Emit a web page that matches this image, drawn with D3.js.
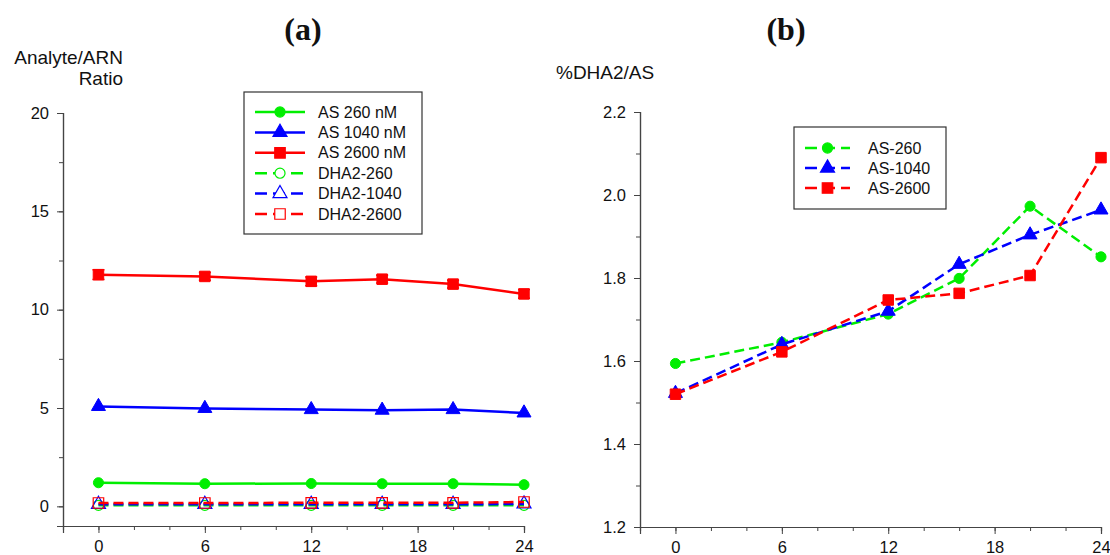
<!doctype html>
<html>
<head>
	<script src="https://d3js.org/d3.v7.min.js"></script>
	<style>
		body { margin: 0; background: #fff; }
		svg text { font-family: Arial, "Liberation Sans", sans-serif; fill: #111; }
	</style>
</head>
<body>
	<svg id="chart" width="1110" height="555"></svg>
	<script>

		// time points (h)
		var hours = [0, 6, 12, 16, 20, 24];

		// panel (a): analyte / ARN ratio
		var as260 = [1.2, 1.15, 1.16, 1.15, 1.15, 1.1];
		var as1040 = [5.08, 4.98, 4.92, 4.89, 4.92, 4.75];
		var as2600 = [11.78, 11.69, 11.44, 11.55, 11.3, 10.8];
		var as2600Err = [0.25, 0.2, 0.22, 0.2, 0.2, 0.22];
		var dha260 = [0.05, 0.05, 0.05, 0.05, 0.05, 0.05];
		var dha1040 = [0.1, 0.1, 0.1, 0.1, 0.1, 0.12];
		var dha2600 = [0.17, 0.17, 0.18, 0.18, 0.18, 0.22];

		// panel (b): %DHA2/AS
		var pct260 = [1.594, 1.645, 1.713, 1.799, 1.973, 1.851];
		var pct1040 = [1.522, 1.64, 1.72, 1.833, 1.904, 1.964];
		var pct2600 = [1.52, 1.622, 1.747, 1.763, 1.806, 2.09];

		var xTicks = [0, 6, 12, 18, 24];
		var leftYTicks = [0, 5, 10, 15, 20];
		var rightYTicks = [1.2, 1.4, 1.6, 1.8, 2.0, 2.2];

		var seriesA = [
			{name: "AS 260 nM", values: as260, color: "#00ee00", shape: "circle", open: false, dash: null},
			{name: "AS 1040 nM", values: as1040, color: "#0000ff", shape: "triangle", open: false, dash: null},
			{name: "AS 2600 nM", values: as2600, color: "#ff0000", shape: "square", open: false, dash: null, err: as2600Err},
			{name: "DHA2-260", values: dha260, color: "#00ee00", shape: "circle", open: true, dash: "10,5"},
			{name: "DHA2-1040", values: dha1040, color: "#0000ff", shape: "triangle", open: true, dash: "10,5"},
			{name: "DHA2-2600", values: dha2600, color: "#ff0000", shape: "square", open: true, dash: "10,5"}
		];

		var seriesB = [
			{name: "AS-260", values: pct260, color: "#00ee00", shape: "circle", open: false, dash: "10,5"},
			{name: "AS-1040", values: pct1040, color: "#0000ff", shape: "triangle", open: false, dash: "10,5"},
			{name: "AS-2600", values: pct2600, color: "#ff0000", shape: "square", open: false, dash: "10,5"}
		];

		var svg = d3.select("#chart");

		var symbolTypes = {circle: d3.symbolCircle, triangle: d3.symbolTriangle, square: d3.symbolSquare};
		var symbolSizes = {circle: 80, triangle: 85, square: 110};

		function drawPanel(opt) {
			var g = svg.append("g");

			var x = d3.scaleLinear().domain([-2, 24]).range(opt.xRange);
			var y = d3.scaleLinear().domain(opt.yDomain).range(opt.yRange);

			// minor ticks
			var xAxisMinor = d3.axisBottom(x).tickValues(d3.range(-2, 25, 2)).tickSize(4).tickFormat("");
			var xAxis = d3.axisBottom(x).tickValues(xTicks).tickSize(7).tickPadding(7).tickFormat(d3.format("d"));
			var yAxisMinor = d3.axisLeft(y).tickValues(opt.yMinor).tickSize(4).tickFormat("");
			var yAxis = d3.axisLeft(y).tickValues(opt.yTicks).tickSize(6).tickPadding(8).tickFormat(opt.yFormat);

			var xg = g.append("g").attr("transform", "translate(0," + opt.yRange[0] + ")");
			xg.call(xAxisMinor);
			xg.append("g").call(xAxis);
			var yg = g.append("g").attr("transform", "translate(" + opt.xRange[0] + ",0)");
			yg.call(yAxisMinor);
			yg.append("g").call(yAxis);

			g.selectAll(".domain").attr("stroke", "#444").attr("stroke-width", 1.2);
			g.selectAll(".tick line").attr("stroke", "#444");
			g.selectAll(".tick text").style("font-size", "16.5px").attr("fill", "#111");

			var line = d3.line()
				.x(function(d, i) { return x(hours[i]); })
				.y(function(d) { return y(d); });

			opt.series.forEach(function(s) {
				var sg = g.append("g");
				sg.append("path")
					.datum(s.values)
					.attr("d", line)
					.attr("fill", "none")
					.attr("stroke", s.color)
					.attr("stroke-width", 2.5)
					.attr("stroke-dasharray", s.dash);

				if (s.err) {
					sg.selectAll(".err")
						.data(s.values)
						.enter()
						.append("path")
						.attr("d", function(d, i) {
							var cx = x(hours[i]), y0 = y(d - s.err[i]), y1 = y(d + s.err[i]);
							return "M" + (cx - 6) + "," + y0 + "H" + (cx + 6) + "M" + cx + "," + y0 + "V" + y1 + "M" + (cx - 6) + "," + y1 + "H" + (cx + 6);
						})
						.attr("stroke", s.color)
						.attr("stroke-width", 1.5);
				}

				sg.selectAll(".pt")
					.data(s.values)
					.enter()
					.append("path")
					.attr("transform", function(d, i) { return "translate(" + x(hours[i]) + "," + y(d) + ")"; })
					.attr("d", d3.symbol().type(symbolTypes[s.shape]).size(symbolSizes[s.shape]))
					.attr("fill", s.open ? "none" : s.color)
					.attr("stroke", s.color)
					.attr("stroke-width", s.open ? 1.2 : 1);
			});

			// legend
			var lg = g.append("g").attr("transform", "translate(" + opt.legend.x + "," + opt.legend.y + ")");
			lg.append("rect")
				.attr("width", opt.legend.w)
				.attr("height", opt.legend.h)
				.attr("fill", "#fff")
				.attr("stroke", "#333")
				.attr("stroke-width", 1.2);

			var items = lg.selectAll(".item")
				.data(opt.series)
				.enter()
				.append("g")
				.attr("transform", function(d, i) { return "translate(0," + (opt.legend.top + i * opt.legend.step) + ")"; });

			items.append("line")
				.attr("x1", opt.legend.lx1)
				.attr("x2", opt.legend.lx2)
				.attr("stroke", function(d) { return d.color; })
				.attr("stroke-width", 2.5)
				.attr("stroke-dasharray", function(d) { return d.dash ? "12,6" : null; });

			items.append("path")
				.attr("transform", "translate(" + ((opt.legend.lx1 + opt.legend.lx2) / 2) + ",0)")
				.attr("d", function(d) { return d3.symbol().type(symbolTypes[d.shape]).size(symbolSizes[d.shape])(); })
				.attr("fill", function(d) { return d.open ? "#fff" : d.color; })
				.attr("stroke", function(d) { return d.color; })
				.attr("stroke-width", 1.2);

			items.append("text")
				.attr("x", opt.legend.tx)
				.attr("dy", "0.35em")
				.style("font-size", "16px")
				.text(function(d) { return d.name; });
		}

		drawPanel({
			xRange: [63, 524],
			yDomain: [-1, 20],
			yRange: [526, 113],
			yTicks: leftYTicks,
			yMinor: d3.range(0, 20.1, 2.5),
			yFormat: d3.format("d"),
			series: seriesA,
			legend: {x: 244, y: 92, w: 178, h: 142, top: 20, step: 20.4, lx1: 11, lx2: 61, tx: 74}
		});

		drawPanel({
			xRange: [640, 1101],
			yDomain: [1.2, 2.2],
			yRange: [527, 112],
			yTicks: rightYTicks,
			yMinor: d3.range(1.2, 2.21, 0.1),
			yFormat: d3.format(".1f"),
			series: seriesB,
			legend: {x: 794, y: 127, w: 152, h: 82, top: 21, step: 20, lx1: 11, lx2: 56, tx: 74}
		});

		// titles and axis labels
		svg.append("text").attr("x", 303).attr("y", 40).attr("text-anchor", "middle")
			.style("font-family", "'Liberation Serif', 'Times New Roman', serif").style("font-weight", "bold").style("font-size", "32px")
			.text("(a)");
		svg.append("text").attr("x", 786).attr("y", 40).attr("text-anchor", "middle")
			.style("font-family", "'Liberation Serif', 'Times New Roman', serif").style("font-weight", "bold").style("font-size", "32px")
			.text("(b)");

		svg.append("text").attr("x", 123).attr("y", 64).attr("text-anchor", "end").style("font-size", "19px").text("Analyte/ARN");
		svg.append("text").attr("x", 123).attr("y", 85).attr("text-anchor", "end").style("font-size", "19px").text("Ratio");
		svg.append("text").attr("x", 556).attr("y", 79).style("font-size", "19px").text("%DHA2/AS");

	</script>
</body>
</html>
